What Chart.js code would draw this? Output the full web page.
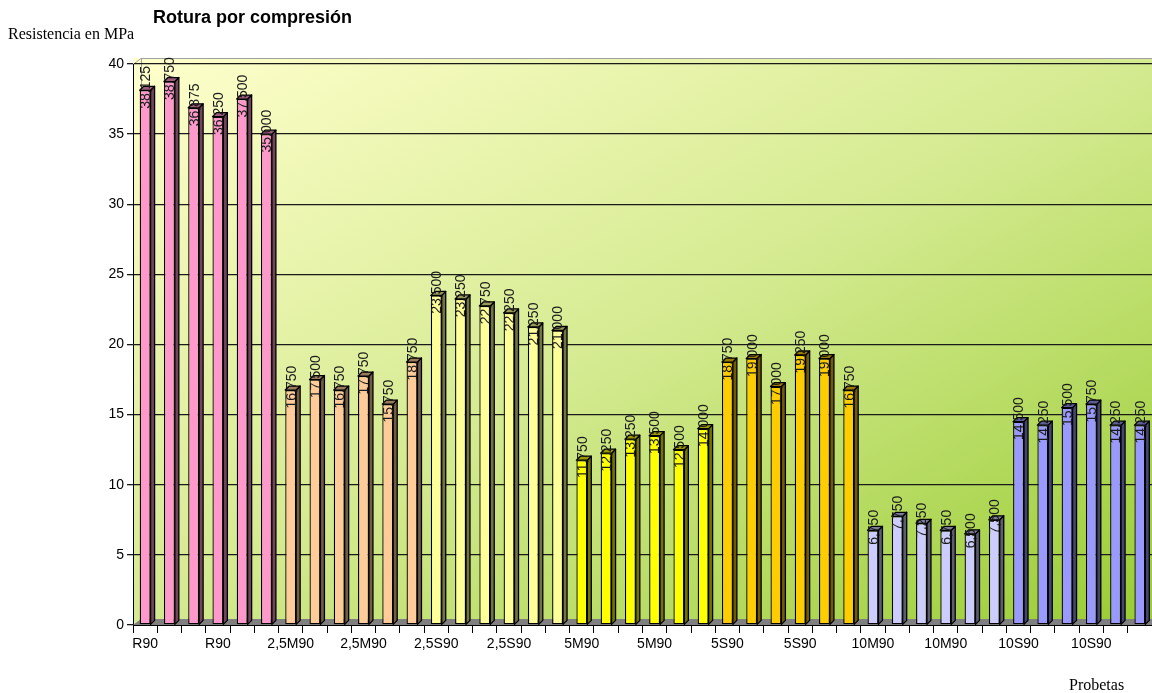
<!DOCTYPE html>
<html>
<head>
<meta charset="utf-8">
<script src="https://cdn.jsdelivr.net/npm/chart.js@4/dist/chart.umd.min.js"></script>
<style>
  html, body { margin: 0; padding: 0; background: #ffffff; }
  #wrap { width: 1152px; height: 693px; position: relative; }
</style>
</head>
<body>
<div id="wrap"><canvas id="c" width="1152" height="693"></canvas></div>
<script>
// Specimen groups (six specimens each) and compressive strength in MPa
const groupNames = ['R90', '2,5M90', '2,5S90', '5M90', '5S90', '10M90', '10S90'];
const valuesR90   = [38.125, 38.750, 36.875, 36.250, 37.500, 35.000];
const values25M90 = [16.750, 17.500, 16.750, 17.750, 15.750, 18.750];
const values25S90 = [23.500, 23.250, 22.750, 22.250, 21.250, 21.000];
const values5M90  = [11.750, 12.250, 13.250, 13.500, 12.500, 14.000];
const values5S90  = [18.750, 19.000, 17.000, 19.250, 19.000, 16.750];
const values10M90 = [6.750, 7.750, 7.250, 6.750, 6.500, 7.500];
const values10S90 = [14.500, 14.250, 15.500, 15.750, 14.250, 14.250];
const yTicks = [0, 5, 10, 15, 20, 25, 30, 35, 40];

const groupValues = [valuesR90, values25M90, values25S90, values5M90, values5S90, values10M90, values10S90];
const groupFill = ['#ff99cc', '#ffcc99', '#ffff99', '#ffff00', '#ffcc00', '#ccccff', '#9999ff'];

const labels = [], data = [], fills = [];
groupValues.forEach((vals, g) => {
  vals.forEach(v => { labels.push(groupNames[g]); data.push(v); fills.push(groupFill[g]); });
});

function shade(hex, f) {
  const n = parseInt(hex.slice(1), 16);
  const r = Math.round(((n >> 16) & 255) * f), g = Math.round(((n >> 8) & 255) * f), b = Math.round((n & 255) * f);
  return `rgb(${r},${g},${b})`;
}

const DEPTH = 4;

// Gradient back wall and grey floor
const wallPlugin = {
  id: 'wall',
  beforeDraw(chart) {
    const { ctx, chartArea: a } = chart;
    const x0 = a.left, y0 = a.top - 6, w = a.right - a.left, h = a.bottom - y0;
    // iso-colour lines run parallel to the anti-diagonal
    const k = 2 * w * h / (w * w + h * h);
    const grad = ctx.createLinearGradient(x0, y0, x0 + k * h, y0 + k * w);
    grad.addColorStop(0, '#ffffcc');
    grad.addColorStop(0.5, '#d4ea90');
    grad.addColorStop(1, '#99cc33');
    ctx.save();
    ctx.fillStyle = grad;
    ctx.fillRect(x0, y0, w, h);
    ctx.strokeStyle = '#a0a0a0';
    ctx.lineWidth = 1;
    ctx.beginPath();
    ctx.moveTo(x0, a.top + 0.5);
    ctx.lineTo(x0 + 8, y0 + 0.5);
    ctx.lineTo(a.right, y0 + 0.5);
    ctx.moveTo(x0 + 8.5, y0);
    ctx.lineTo(x0 + 8.5, a.bottom - 6);
    ctx.stroke();
    ctx.restore();
  },
  beforeDatasetsDraw(chart) {
    const { ctx, chartArea: a } = chart;
    ctx.save();
    ctx.fillStyle = '#808080';
    ctx.beginPath();
    ctx.moveTo(a.left, a.bottom);
    ctx.lineTo(a.left + 8, a.bottom - 6);
    ctx.lineTo(a.right, a.bottom - 6);
    ctx.lineTo(a.right, a.bottom);
    ctx.closePath();
    ctx.fill();
    ctx.restore();
  }
};

// Side and top faces of each bar, then the rotated value labels
const barPlugin = {
  id: 'bar3d',
  afterDatasetsDraw(chart) {
    const { ctx } = chart;
    const meta = chart.getDatasetMeta(0);
    ctx.save();
    meta.data.forEach((bar, i) => {
      const p = bar.getProps(['x', 'y', 'base', 'width'], true);
      const l = p.x - p.width / 2, r = p.x + p.width / 2, t = p.y, b = p.base;
      ctx.lineWidth = 1.3;
      ctx.strokeStyle = '#000000';
      ctx.lineJoin = 'round';
      // side
      ctx.fillStyle = shade(fills[i], 0.45);
      ctx.beginPath();
      ctx.moveTo(r, t); ctx.lineTo(r + DEPTH, t - DEPTH); ctx.lineTo(r + DEPTH, b - DEPTH); ctx.lineTo(r, b);
      ctx.closePath(); ctx.fill(); ctx.stroke();
      // top
      ctx.fillStyle = shade(fills[i], 0.6);
      ctx.beginPath();
      ctx.moveTo(l, t); ctx.lineTo(l + DEPTH, t - DEPTH); ctx.lineTo(r + DEPTH, t - DEPTH); ctx.lineTo(r, t);
      ctx.closePath(); ctx.fill(); ctx.stroke();
    });
    ctx.fillStyle = '#1a1a1a';
    ctx.font = '14px "Liberation Sans", Arial, sans-serif';
    ctx.textAlign = 'center';
    ctx.textBaseline = 'middle';
    meta.data.forEach((bar, i) => {
      const p = bar.getProps(['x', 'y'], true);
      const txt = data[i].toFixed(3).replace('.', ',');
      ctx.save();
      ctx.translate(p.x + 1, p.y - 3);
      ctx.rotate(-Math.PI / 2);
      ctx.fillText(txt, 0, 0);
      ctx.restore();
    });
    ctx.restore();
  },
  afterDraw(chart) {
    const { ctx } = chart;
    ctx.save();
    ctx.fillStyle = '#000000';
    ctx.textBaseline = 'alphabetic';
    ctx.textAlign = 'left';
    ctx.font = 'bold 18px "Liberation Sans", Arial, sans-serif';
    ctx.fillText('Rotura por compresión', 153, 23);
    ctx.font = '16px "Liberation Serif", "Times New Roman", serif';
    ctx.fillText('Resistencia en MPa', 8, 39);
    ctx.fillText('Probetas', 1069, 690);
    ctx.restore();
  }
};

new Chart(document.getElementById('c'), {
  type: 'bar',
  data: {
    labels: labels,
    datasets: [{
      data: data,
      backgroundColor: fills,
      borderColor: '#000000',
      borderWidth: 1.3,
      borderSkipped: false,
      barPercentage: 0.9,
      categoryPercentage: 0.5
    }]
  },
  plugins: [wallPlugin, barPlugin],
  options: {
    responsive: false,
    animation: false,
    layout: { padding: { left: 0, right: 0, top: 64, bottom: 20 } },
    plugins: { legend: { display: false }, tooltip: { enabled: false }, title: { display: false } },
    scales: {
      x: {
        offset: true,
        grid: { offset: true, drawOnChartArea: false, drawTicks: true, tickLength: 8, color: '#000000' },
        border: { color: '#000000', width: 1 },
        ticks: {
          autoSkip: false,
          maxRotation: 0,
          padding: 3,
          color: '#000000',
          font: { family: '"Liberation Sans", Arial, sans-serif', size: 14 },
          callback: function (val, idx) { return idx % 3 === 0 ? labels[idx] : ''; }
        },
        afterFit: s => { s.height = 48; }
      },
      y: {
        min: yTicks[0],
        max: yTicks[yTicks.length - 1],
        afterBuildTicks: s => { s.ticks = yTicks.map(v => ({ value: v })); },
        grid: { color: '#1a1a1a', lineWidth: 1.3, tickLength: 6, drawTicks: true },
        border: { color: '#000000', width: 1 },
        ticks: {
          padding: 3,
          color: '#000000',
          font: { family: '"Liberation Sans", Arial, sans-serif', size: 14 }
        },
        afterFit: s => { s.width = 133; }
      }
    }
  }
});
</script>
</body>
</html>
